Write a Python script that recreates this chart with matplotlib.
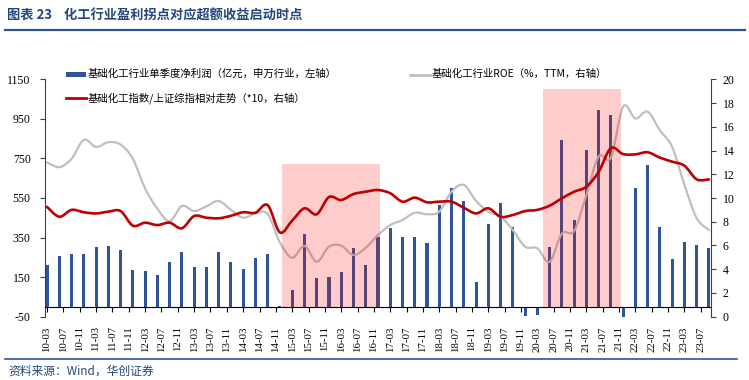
import numpy as np
import pandas as pd
import matplotlib
matplotlib.use("Agg")
import matplotlib.pyplot as plt
from matplotlib.path import Path
from matplotlib.patches import PathPatch, Rectangle
from matplotlib.lines import Line2D

# ---------------- data ----------------
start_month = "2010-03"
quarter_months = pd.period_range("2010-03", "2023-09", freq="M")[::3]
tick_months = pd.period_range("2010-03", "2023-07", freq="M")[::4]

profit = [210, 257, 267, 267, 302, 307, 289, 188, 179, 159, 225, 279, 201, 201,
          277, 226, 190, 245, 265, 5, 85, 368, 146, 151, 177, 296, 211, 354,
          398, 351, 353, 321, 515, 601, 536, 125, 420, 525, 402, -48, -40, 304,
          842, 439, 791, 996, 970, -49, 602, 715, 403, 242, 326, 311, 296]

roe = [13.0, 12.6, 13.3, 14.9, 14.3, 14.7, 14.5, 13.3, 10.8, 9.1, 8.05, 9.33,
       8.9, 9.3, 9.75, 9.0, 8.34, 8.7, 8.65, 6.25, 4.97, 5.96, 4.63, 5.9, 5.98,
       5.2, 5.81, 6.88, 7.72, 8.15, 8.76, 8.63, 8.85, 10.53, 11.1, 9.75, 8.85,
       8.42, 7.3, 5.9, 5.76, 4.63, 7.0, 7.22, 10.25, 13.5, 13.4, 17.7, 16.7,
       17.27, 15.7, 14.3, 11.1, 8.3, 7.3]

relative = [9.25, 8.42, 9.0, 8.8, 8.7, 8.85, 8.9, 7.67, 7.92, 7.72, 7.92, 7.45,
            8.48, 8.34, 8.29, 8.5, 8.8, 8.76, 9.4, 7.1, 8.1, 9.13, 8.63, 10.08,
            9.83, 10.33, 10.53, 10.67, 10.4, 9.69, 10.03, 9.64, 9.69, 9.69, 9.18,
            8.7, 9.13, 8.42, 8.57, 8.9, 9.0, 9.35, 9.97, 10.53, 10.95, 12.2, 14.2,
            13.7, 13.68, 13.85, 13.4, 13.06, 12.72, 11.57, 11.57]

shade_periods = [("2015-01", "2016-12", 720), ("2020-05", "2021-11", 1100)]

left_ticks = [-50, 150, 350, 550, 750, 950, 1150]
right_ticks = list(range(0, 21, 2))

title = "图表 23    化工行业盈利拐点对应超额收益启动时点"
source = "资料来源：Wind，华创证券"
leg_profit = "基础化工行业单季度净利润（亿元，申万行业，左轴）"
leg_roe = "基础化工行业ROE（%，TTM，右轴）"
leg_rel = "基础化工指数/上证综指相对走势（*10，右轴）"

# ---------------- helpers ----------------
base = pd.Period(start_month, freq="M")


def midx(p):
    return (pd.Period(p, freq="M") - base).n


xq = np.array([midx(p) for p in quarter_months], dtype=float)
xt = [midx(p) for p in tick_months]
tick_labels = [p.strftime("%y-%m") for p in tick_months]


def smooth_path(x, y):
    pts = np.column_stack([x, y]).astype(float)
    n = len(pts)
    verts = [pts[0]]
    codes = [Path.MOVETO]
    for i in range(n - 1):
        p0 = pts[i - 1] if i > 0 else pts[i]
        p1 = pts[i]
        p2 = pts[i + 1]
        p3 = pts[i + 2] if i + 2 < n else pts[i + 1]
        verts += [p1 + (p2 - p0) / 6.0, p2 - (p3 - p1) / 6.0, p2]
        codes += [Path.CURVE4] * 3
    return Path(verts, codes)


W, H = 749, 380
CJK = ["Noto Sans CJK SC", "DejaVu Sans"]
SERIF = "Liberation Serif"
NAVY = "#23467F"


def fx(px):
    return px / W


def fy(py):
    return 1 - py / H


# ---------------- figure ----------------
fig = plt.figure(figsize=(W / 100, H / 100), dpi=100)
ax = fig.add_axes([fx(45), fy(316.7), fx(711) - fx(45), fy(79.3) - fy(316.7)])
ax2 = ax.twinx()

ax.set_xlim(-0.5, 162.5)
ax.set_ylim(-50, 1150)
ax2.set_ylim(0, 20)

ax.bar(xq, profit, width=0.75, color="#2F5597", zorder=2)

ax2.add_patch(PathPatch(smooth_path(xq, roe), fill=False, edgecolor="#BFBFBF",
                        lw=1.6, zorder=2, capstyle="round"))
for s, e, h in shade_periods:
    a, b = midx(s) - 0.5, midx(e) + 0.5
    ax2.add_patch(Rectangle((a, 0), b - a, h, transform=ax.transData,
                            facecolor=(1, 0, 0, 0.2), edgecolor="none", zorder=3))
ax2.add_patch(PathPatch(smooth_path(xq, relative), fill=False, edgecolor="#C00000",
                        lw=1.9, zorder=4, capstyle="round"))

# spines
for s in ["top", "right"]:
    ax.spines[s].set_visible(False)
for s in ["top", "left", "bottom"]:
    ax2.spines[s].set_visible(False)
ax.spines["bottom"].set_position(("data", 0))
ax.spines["bottom"].set_color("#000000")
ax.spines["bottom"].set_linewidth(0.8)
ax.spines["left"].set_color("#404040")
ax.spines["left"].set_linewidth(0.8)
ax2.spines["right"].set_color("#404040")
ax2.spines["right"].set_linewidth(0.8)

ax.set_yticks(left_ticks)
ax.set_yticklabels([str(v) for v in left_ticks], fontsize=8.5, family=SERIF)
ax.tick_params(axis="y", direction="out", length=3.3, width=0.8, pad=7, color="#404040")
ax2.set_yticks(right_ticks)
ax2.set_yticklabels([str(v) for v in right_ticks], fontsize=8.5, family=SERIF)
ax2.tick_params(axis="y", direction="out", length=3.3, width=0.8, pad=5, color="#404040")

ax.set_xticks(xt)
ax.set_xticklabels(tick_labels, rotation=90, fontsize=7.8, family=SERIF)
ax.tick_params(axis="x", direction="out", length=3.5, width=0.8, pad=10.5)

# legend (manual)
fig.patches.append(Rectangle((fx(66), fy(77)), fx(86) - fx(66), fy(71.5) - fy(77),
                             transform=fig.transFigure, facecolor="#2F5597",
                             edgecolor="none"))
fig.text(fx(88), fy(74), leg_profit, fontsize=7.5, family=CJK, va="center", ha="left")
fig.lines.append(Line2D([fx(66), fx(86)], [fy(98), fy(98)], transform=fig.transFigure,
                        color="#C00000", lw=2))
fig.text(fx(88), fy(98), leg_rel, fontsize=7.5, family=CJK, va="center", ha="left")
fig.lines.append(Line2D([fx(410), fx(430)], [fy(74.5), fy(74.5)], transform=fig.transFigure,
                        color="#BFBFBF", lw=2))
fig.text(fx(432), fy(74), leg_roe, fontsize=7.5, family=CJK, va="center", ha="left")

# title, rules, source
fig.text(fx(7), fy(16), title, fontsize=9.5, family=CJK, weight="bold", color=NAVY,
         va="center", ha="left")
fig.lines.append(Line2D([fx(5), fx(745)], [fy(30), fy(30)], transform=fig.transFigure,
                        color="#2F5597", lw=1.6))
fig.lines.append(Line2D([fx(5), fx(737)], [fy(359.3), fy(359.3)], transform=fig.transFigure,
                        color="#2F5597", lw=1.2))
fig.text(fx(8), fy(371), source, fontsize=8.5, family=CJK, style="italic", color=NAVY,
         va="center", ha="left")

fig.savefig("out.png", dpi=100)
